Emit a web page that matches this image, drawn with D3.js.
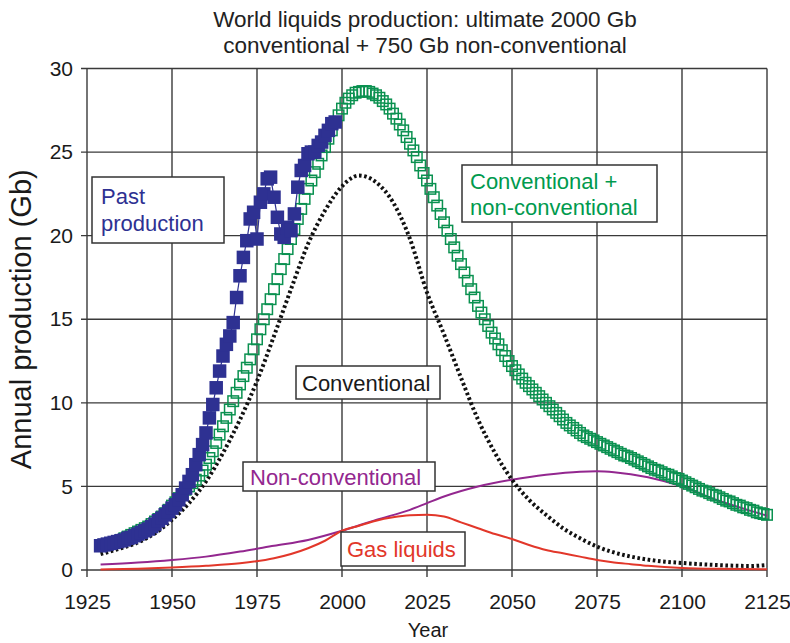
<!DOCTYPE html>
<html><head><meta charset="utf-8">
<script src="https://cdn.jsdelivr.net/npm/d3@7"></script>
<style>
html,body{margin:0;padding:0;background:#fff;}
svg{display:block;font-family:"Liberation Sans",Arial,sans-serif;}
</style></head>
<body><svg id="c" width="790" height="643"></svg>
<script>
// ---------- data ----------
const titleLines = ["World liquids production: ultimate 2000 Gb", "conventional + 750 Gb non-conventional"];
const xTicks = [1925, 1950, 1975, 2000, 2025, 2050, 2075, 2100, 2125];
const yTicks = [0, 5, 10, 15, 20, 25, 30];

// Past production (blue filled squares), annual from 1929
const pastStart = 1929;
const pastValues = [1.45,1.5,1.55,1.6,1.65,1.7,1.75,1.8,1.9,1.95,
  2.05,2.15,2.25,2.35,2.45,2.6,2.75,2.95,3.1,3.3,
  3.5,3.7,3.9,4.2,4.5,4.9,5.3,5.7,6.3,6.9,
  7.5,8.2,9.1,9.9,10.9,11.9,12.8,13.5,14.0,14.8,
  16.3,17.6,18.7,19.7,21.0,21.4,19.8,22.0,22.5,23.4,
  23.5,22.3,21.1,20.1,19.9,20.5,20.3,21.3,22.9,23.9,
  24.2,24.9,25.0,25.0,25.4,25.6,26.0,26.3,26.7,26.8];

// Conventional + non-conventional (green open squares), annual from 1930
const totalStart = 1930;
const totalValues = [1.5,1.55,1.6,1.65,1.7,1.8,1.9,2.0,2.1,2.2,
  2.3,2.4,2.5,2.6,2.75,2.9,3.05,3.2,3.4,3.6,
  3.85,4.05,4.3,4.55,4.8,5.0,5.2,5.4,5.65,5.95,
  6.3,6.7,7.1,7.6,8.1,8.6,9.1,9.6,10.1,10.6,
  11.1,11.6,12.1,12.6,13.2,13.8,14.4,15.0,15.6,16.2,
  16.8,17.4,18.0,18.6,19.2,19.8,20.4,21.0,21.6,22.2,
  22.8,23.3,23.8,24.3,24.8,25.3,25.8,26.3,26.8,27.2,
  27.6,27.95,28.2,28.4,28.55,28.6,28.65,28.65,28.6,28.5,
  28.4,28.25,28.05,27.85,27.6,27.3,27.0,26.65,26.3,25.9,
  25.5,25.1,24.7,24.2,23.75,23.3,22.8,22.3,21.8,21.3,
  20.8,20.3,19.8,19.3,18.8,18.3,17.8,17.3,16.8,16.3,
  15.8,15.4,15.0,14.6,14.2,13.85,13.5,13.15,12.8,12.5,
  12.2,11.95,11.7,11.45,11.2,11.0,10.8,10.6,10.4,10.2,
  10.0,9.8,9.6,9.4,9.2,9.0,8.8,8.65,8.5,8.35,
  8.2,8.05,7.95,7.85,7.75,7.65,7.55,7.45,7.35,7.25,
  7.15,7.05,6.95,6.85,6.8,6.7,6.6,6.5,6.4,6.3,
  6.2,6.1,6.0,5.95,5.85,5.75,5.7,5.6,5.5,5.45,
  5.35,5.25,5.15,5.05,4.95,4.85,4.75,4.7,4.6,4.5,
  4.45,4.35,4.25,4.15,4.1,4.0,3.9,3.85,3.75,3.7,
  3.6,3.55,3.45,3.4,3.35,3.3];

// Conventional (black dotted)
const convYears  = [1929,1935,1940,1945,1950,1955,1960,1965,1970,1975,1980,1985,1990,1995,2000,2005,2010,2015,2020,2025,2030,2035,2040,2045,2050,2055,2060,2065,2070,2075,2080,2085,2090,2095,2100,2105,2110,2115,2120,2125];
const convValues = [0.95,1.3,1.65,2.2,3.0,4.0,5.3,7.0,9.0,11.3,14.0,16.8,19.5,21.5,22.95,23.6,23.2,22.0,19.8,16.6,14.1,11.5,9.0,7.0,5.4,4.2,3.3,2.5,1.9,1.4,1.05,0.8,0.62,0.5,0.42,0.35,0.3,0.26,0.24,0.3];

// Non-conventional (purple)
const nonConvYears  = [1929,1940,1950,1960,1970,1980,1990,2000,2010,2020,2025,2030,2040,2050,2060,2070,2075,2080,2090,2100,2110,2120,2125];
const nonConvValues = [0.33,0.45,0.6,0.8,1.1,1.45,1.8,2.35,3.0,3.6,4.0,4.4,5.0,5.4,5.7,5.88,5.9,5.85,5.55,5.0,4.2,3.55,3.25];

// Gas liquids (red)
const gasYears  = [1929,1940,1950,1960,1970,1980,1990,1995,2000,2005,2010,2015,2020,2025,2030,2035,2040,2045,2050,2055,2060,2065,2070,2075,2080,2085,2090,2100,2110,2125];
const gasValues = [0.03,0.08,0.15,0.25,0.4,0.7,1.3,1.75,2.35,2.65,2.95,3.15,3.27,3.3,3.2,2.85,2.5,2.15,1.85,1.5,1.2,1.0,0.8,0.6,0.45,0.35,0.25,0.12,0.07,0.05];

// annotation labels
const labels = [
  {lines:["Past","production"], color:"#2e3192"},
  {lines:["Conventional +","non-conventional"], color:"#009a4e"},
  {lines:["Conventional"], color:"#1a1a1a"},
  {lines:["Non-conventional"], color:"#93278f"},
  {lines:["Gas liquids"], color:"#e2372a"}
];
// ---------- layout ----------
const labelPos = [ // [boxX, boxY, boxW, boxH, textX, firstBaseline, lineStep]
  [92,177,132,66,101,204,27],
  [462,165,195,57,470,189,26],
  [296,366,144,33,302,391,0],
  [243,462,192,29,250,485,0],
  [341,532,124,34,347,557,0]
];

const svg = d3.select("#c");
const x = d3.scaleLinear().domain([1925,2125]).range([87,767]);
const y = d3.scaleLinear().domain([0,30]).range([570,68.5]);

// grid
const g = svg.append("g");
g.selectAll(".vg").data(xTicks).join("line")
  .attr("x1",d=>x(d)).attr("x2",d=>x(d)).attr("y1",y(30)).attr("y2",y(0)+7)
  .attr("stroke","#3a3a3a").attr("stroke-width",1.4);
g.selectAll(".hg").data(yTicks).join("line")
  .attr("x1",x(1925)-6).attr("x2",x(2125)).attr("y1",d=>y(d)).attr("y2",d=>y(d))
  .attr("stroke","#3a3a3a").attr("stroke-width",1.4);

// tick labels via axes (labels only)
const xAxis = d3.axisBottom(x).tickValues(xTicks).tickFormat(d3.format("d")).tickSize(0).tickPadding(0);
const xa = svg.append("g").attr("transform",`translate(0,${y(0)+24})`).call(xAxis);
xa.select(".domain").remove();
xa.selectAll("text").attr("font-size",21).attr("fill","#1a1a1a").attr("font-family","Liberation Sans, Arial, sans-serif");
const yAxis = d3.axisLeft(y).tickValues(yTicks).tickSize(0).tickPadding(0);
const ya = svg.append("g").attr("transform",`translate(${x(1925)-14},0)`).call(yAxis);
ya.select(".domain").remove();
ya.selectAll("text").attr("font-size",21).attr("fill","#1a1a1a").attr("font-family","Liberation Sans, Arial, sans-serif");

// titles
svg.append("text").attr("x",425).attr("y",27).attr("text-anchor","middle").attr("font-size",22.5).attr("fill","#222")
  .text(titleLines[0]);
svg.append("text").attr("x",425).attr("y",53).attr("text-anchor","middle").attr("font-size",22.5).attr("fill","#222")
  .text(titleLines[1]);
svg.append("text").attr("transform",`translate(31,${(y(0)+y(30))/2}) rotate(-90)`).attr("text-anchor","middle")
  .attr("font-size",29).attr("fill","#1a1a1a").text("Annual production (Gb)");
svg.append("text").attr("x",428).attr("y",637).attr("text-anchor","middle").attr("font-size",20).attr("fill","#1a1a1a").text("Year");

// lines
const mk = (ys, vs) => ys.map((yr,i)=>[yr, vs[i]]);
const line = d3.line().x(d=>x(d[0])).y(d=>y(d[1])).curve(d3.curveMonotoneX);
svg.append("path").attr("d",line(mk(nonConvYears,nonConvValues))).attr("fill","none").attr("stroke","#93278f").attr("stroke-width",2);
svg.append("path").attr("d",line(mk(gasYears,gasValues))).attr("fill","none").attr("stroke","#e2372a").attr("stroke-width",2);
svg.append("path").attr("d",line(mk(convYears,convValues))).attr("fill","none").attr("stroke","#111").attr("stroke-width",4).attr("stroke-dasharray","2.6,2.6");

// green open squares
const totalData = totalValues.map((v,i)=>[totalStart+i, v]);
const gs = 10.5;
svg.append("g").selectAll("rect").data(totalData).join("rect")
  .attr("x",d=>x(d[0])-gs/2).attr("y",d=>y(d[1])-gs/2).attr("width",gs).attr("height",gs)
  .attr("fill","none").attr("stroke","#0a9150").attr("stroke-width",1.5);

// blue past production
const pastData = pastValues.map((v,i)=>[pastStart+i, v]);
svg.append("path").attr("d",d3.line().x(d=>x(d[0])).y(d=>y(d[1]))(pastData)).attr("fill","none").attr("stroke","#2e3192").attr("stroke-width",1.2);
const bs = 13.5;
svg.append("g").selectAll("rect").data(pastData).join("rect")
  .attr("x",d=>x(d[0])-bs/2).attr("y",d=>y(d[1])-bs/2).attr("width",bs).attr("height",bs)
  .attr("fill","#2e3192");

// annotation boxes
labels.forEach((lab,i)=>{
  const p = labelPos[i];
  svg.append("rect").attr("x",p[0]).attr("y",p[1]).attr("width",p[2]).attr("height",p[3])
    .attr("fill","#fff").attr("stroke","#333").attr("stroke-width",1.5);
  lab.lines.forEach((t,j)=>{
    svg.append("text").attr("x",p[4]).attr("y",p[5]+j*p[6]).attr("font-size",22).attr("fill",lab.color).text(t);
  });
});
</script></body></html>
